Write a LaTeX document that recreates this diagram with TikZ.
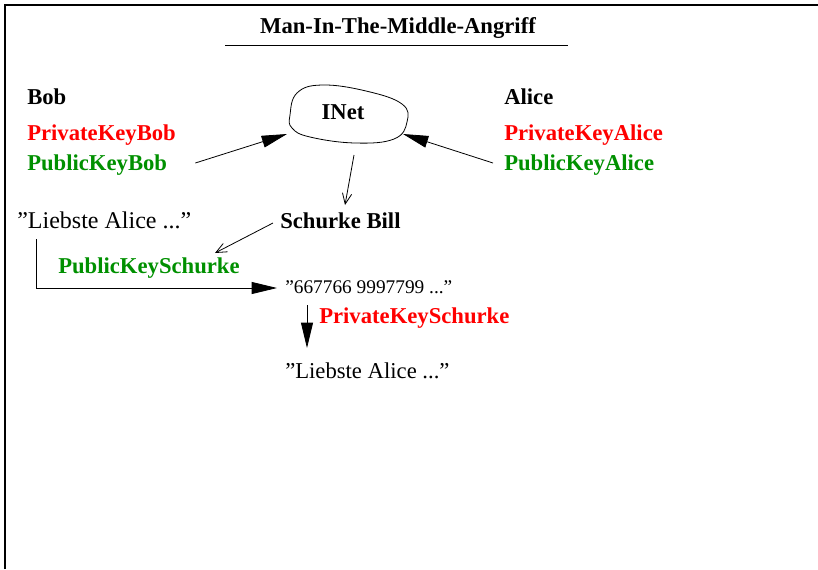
\documentclass[tikz,border=0pt]{standalone}
\usepackage{fontspec}
\setmainfont{Liberation Serif}
\usetikzlibrary{arrows.meta,calc}
\definecolor{keyred}{RGB}{255,0,0}
\definecolor{keygreen}{RGB}{0,144,0}
\begin{document}
\begin{tikzpicture}[x=0.75pt,y=-0.75pt,
  lbl/.style={inner sep=0pt,anchor=base west,font=\bfseries\fontsize{17}{20}\selectfont},
  msg/.style={inner sep=0pt,anchor=base west,font=\fontsize{18}{21}\selectfont},
  priv/.style={lbl,text=keyred},
  pub/.style={lbl,text=keygreen},
  bigarrow/.style={-{Triangle[length=19pt,width=9pt]},line width=0.6pt},
  thinarrow/.style={-{Straight Barb[length=8pt,width=7pt]},line width=0.6pt},
]
\useasboundingbox (0,0) rectangle (818,569);
% frame
\draw[line width=0.8pt] (5,569) -- (5,5) -- (818,5);

% title
\node[lbl,anchor=base] (title) at (398,33) {Man-In-The-Middle-Angriff};
\draw[line width=0.6pt] (225,45) -- (568,45);

% parties
\node[lbl]  (bob)  at (27,104) {Bob};
\node[priv] (prb)  at (27,140) {PrivateKeyBob};
\node[pub]  (pkb)  at (27,170) {PublicKeyBob};
\node[lbl]  (alice) at (504,104) {Alice};
\node[priv] (pra)  at (504,140) {PrivateKeyAlice};
\node[pub]  (pka)  at (504,170) {PublicKeyAlice};

% network cloud
\draw[line width=0.6pt] plot[smooth cycle,tension=0.7] coordinates
  {(290,115) (297,93) (322,85) (366,91) (402,104) (407,122) (394,139) (355,143) (310,137) (292,128)};
\node[lbl,anchor=base] (inet) at (343,119) {INet};

% attacker
\node[lbl] (bill) at (280,228) {Schurke Bill};
\node[pub] (pks)  at (58,273) {PublicKeySchurke};

% messages
\node[msg] (lieb1) at (17,228) {''Liebste Alice ...''};
\node[msg,font=\fontsize{14.5}{17}\selectfont] (enc) at (285,293) {''667766 9997799 ...''};
\node[priv] (prs) at (319,323) {PrivateKeySchurke};
\node[msg,font=\fontsize{17}{20}\selectfont] (lieb2) at (285,378) {''Liebste Alice ...''};

% connectors
\draw[bigarrow] ($(pkb.base east)+(28,-7)$) -- ($(inet.base)+(-56,15)$);
\draw[bigarrow] ($(pka.base west)+(-11,-7)$) -- ($(inet.base)+(60,15)$);
\draw[thinarrow] ($(inet.base)+(11,36)$) -- ($(bill.base west)+(65,-23)$);
\draw[thinarrow] ($(bill.base west)+(-7,-5)$) -- ($(pks.base west)+(157,-20)$);
\draw[bigarrow] ($(lieb1.base west)+(19,11)$) |- ($(enc.base west)+(-8,-5)$);
\draw[bigarrow] ($(enc.base west)+(22,12)$) -- ($(lieb2.base west)+(22,-30)$);
\end{tikzpicture}
\end{document}
